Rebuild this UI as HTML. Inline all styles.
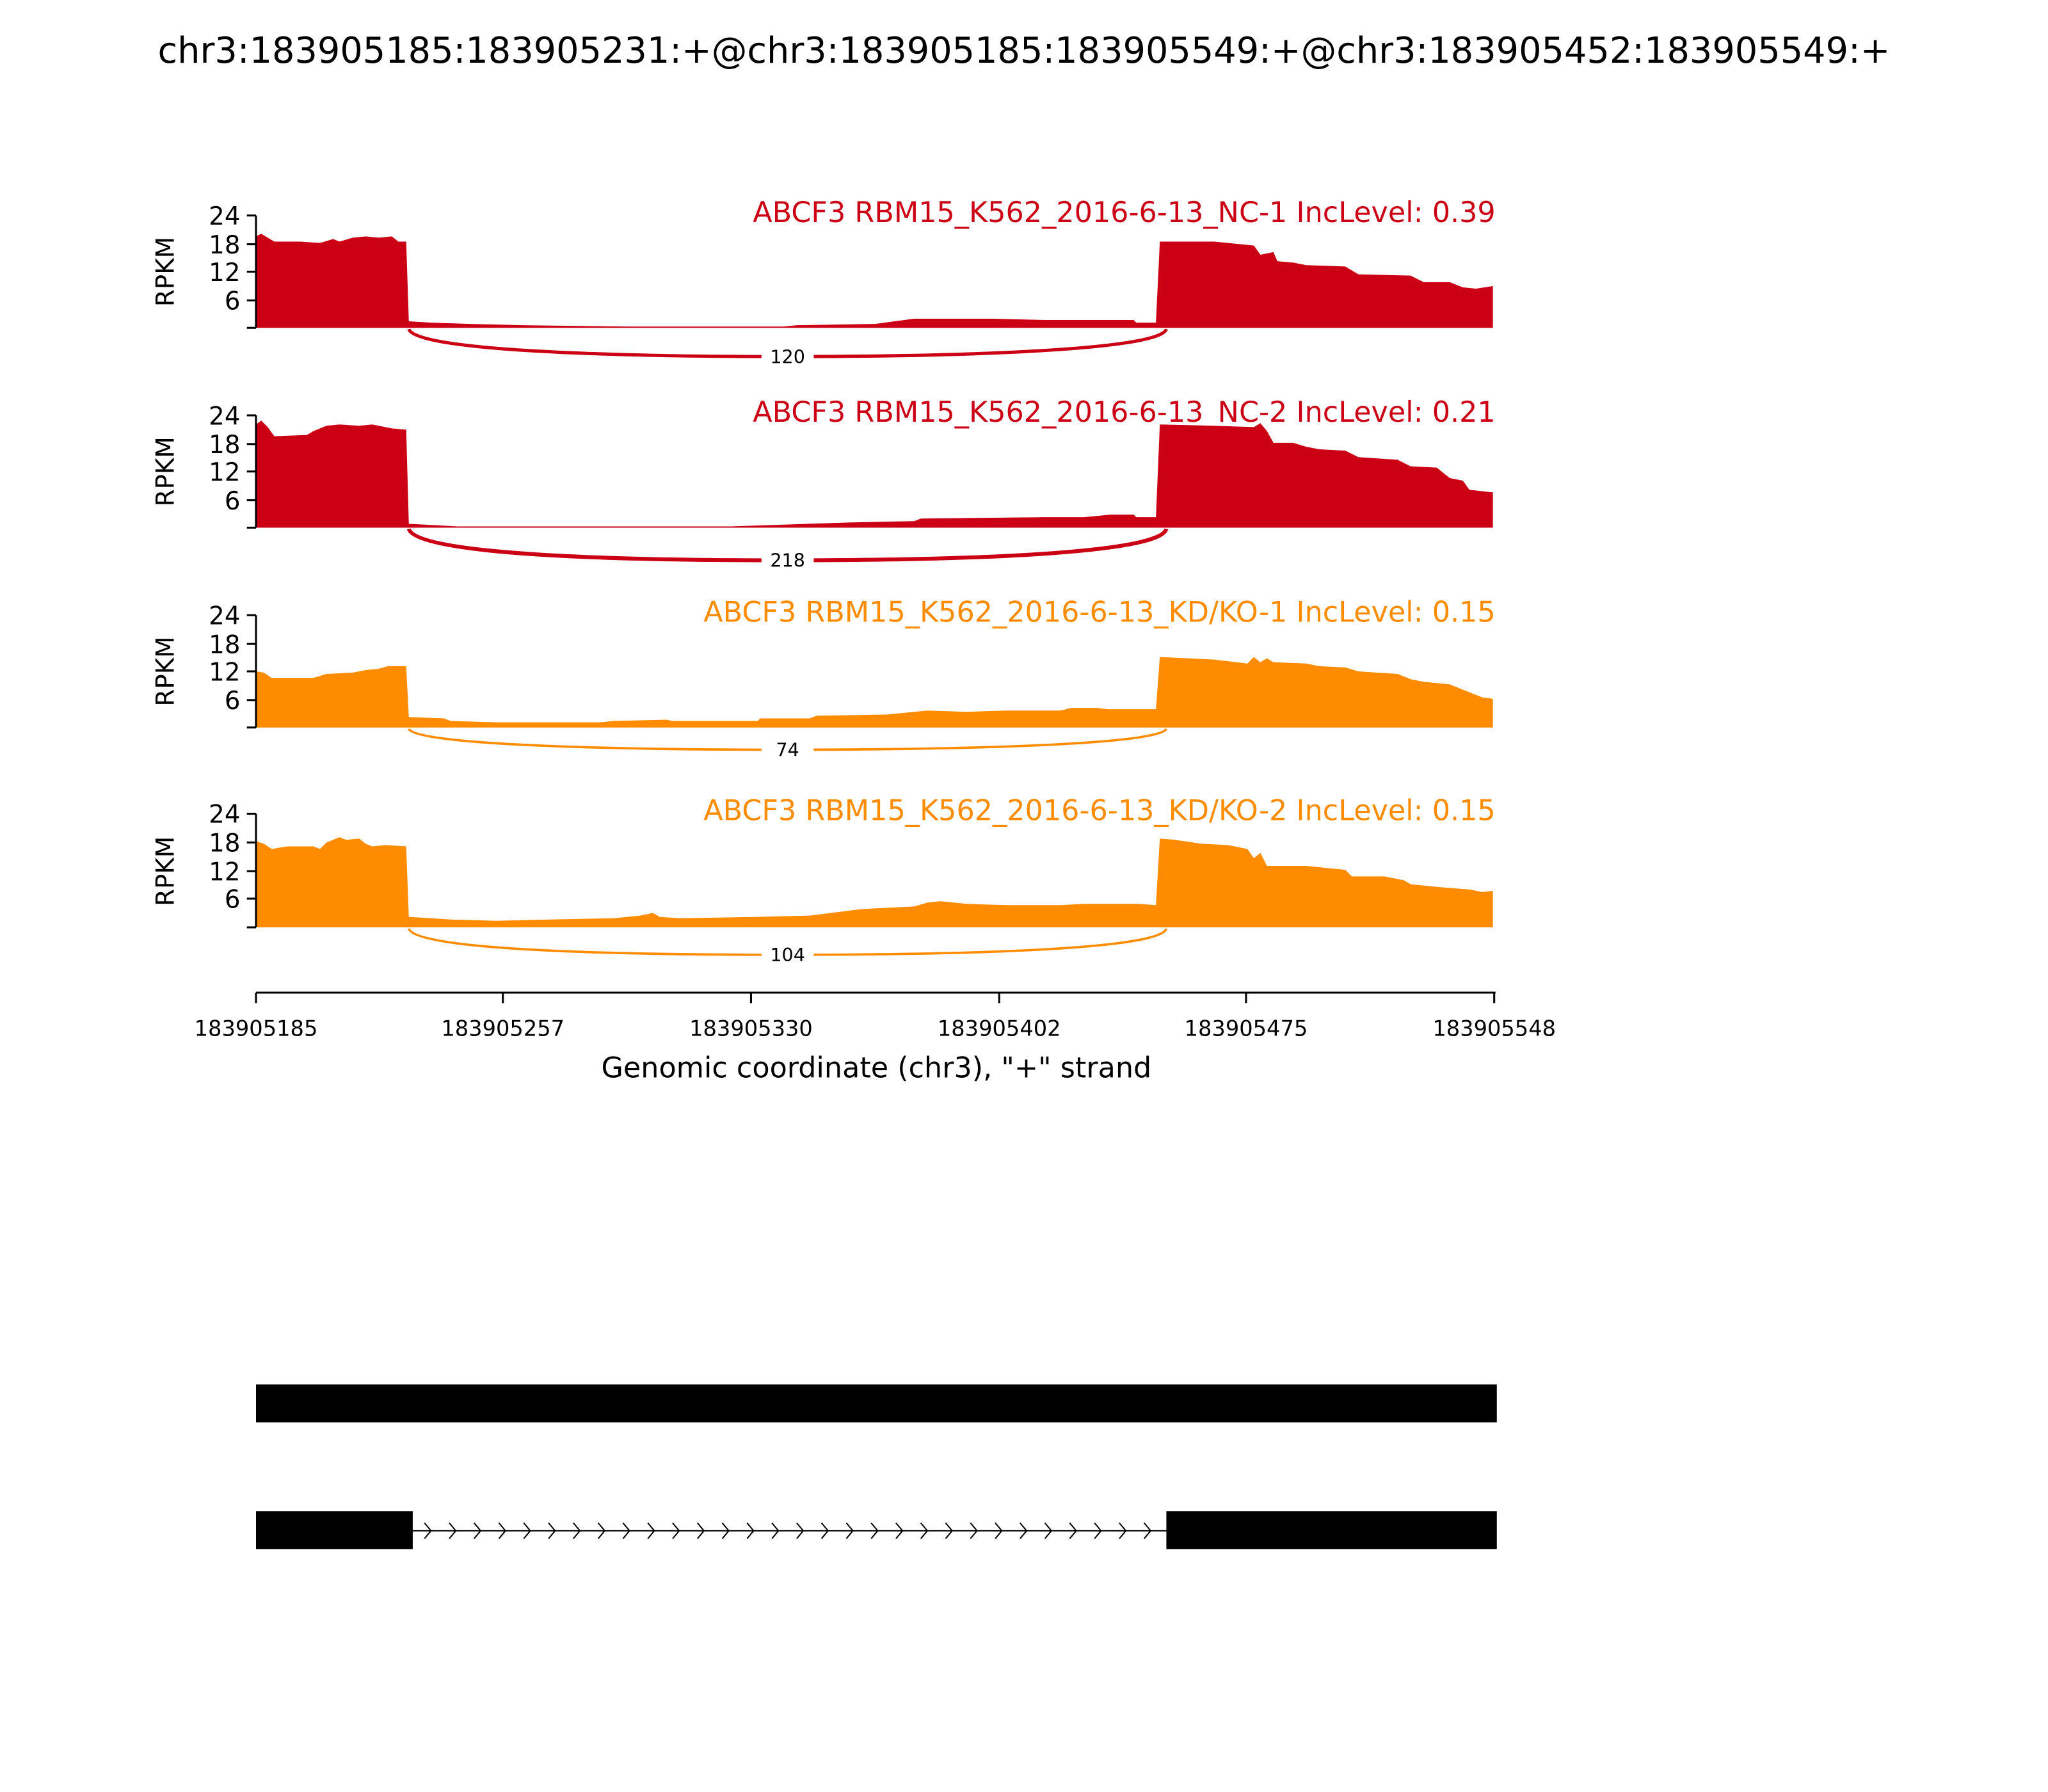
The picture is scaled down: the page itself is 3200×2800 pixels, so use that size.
<!DOCTYPE html>
<html><head><meta charset="utf-8"><style>html,body{margin:0;padding:0;background:#fff}svg{display:block}text{font-family:"DejaVu Sans","Liberation Sans",sans-serif}</style></head>
<body>
<svg width="3200" height="2800" viewBox="0 0 1568 1372" xmlns="http://www.w3.org/2000/svg">
<rect width="1568" height="1372" fill="#fff"/>
<text x="784" y="48" font-size="27.3" text-anchor="middle">chr3:183905185:183905231:+@chr3:183905185:183905549:+@chr3:183905452:183905549:+</text>

<!-- Panel 1 -->
<g>
<path fill="#cc0014" d="M196,251 L196,181 L200,179 L205,182 L210,185 L230,185 L245,186 L255,183 L260,185 L270,182 L280,181 L290,182 L300,181 L305,185 L311,185 L313,246 L330,247 L360,248 L400,249 L480,250 L600,250 L610,249 L670,248 L700,244 L760,244 L800,245 L868,245 L870,247 L885,247 L888,185 L930,185 L960,188 L965,195 L975,193 L978,200 L990,201 L1000,203 L1030,204 L1040,210 L1080,211 L1090,216 L1110,216 L1120,220 L1130,221 L1143,219 L1143,251 Z"/>
<path d="M313,252 C318,268 460,273 600,273 C740,273 888,268 893,252" fill="none" stroke="#cc0014" stroke-width="2.5"/>
<rect x="583" y="264" width="40" height="18" fill="#fff"/>
<text x="603" y="278" font-size="14" text-anchor="middle">120</text>
<text x="1145" y="170" font-size="21.8" text-anchor="end" fill="#cc0014">ABCF3 RBM15_K562_2016-6-13_NC-1 IncLevel: 0.39</text>
<g stroke="#000" stroke-width="1.5"><line x1="196" y1="165" x2="196" y2="251"/><line x1="189" y1="165" x2="196" y2="165"/><line x1="189" y1="187" x2="196" y2="187"/><line x1="189" y1="208" x2="196" y2="208"/><line x1="189" y1="230" x2="196" y2="230"/><line x1="189" y1="251" x2="196" y2="251"/></g>
<g font-size="19" text-anchor="end"><text x="184" y="172">24</text><text x="184" y="194">18</text><text x="184" y="215">12</text><text x="184" y="237">6</text></g>
<text transform="translate(133,208) rotate(-90)" font-size="19" text-anchor="middle">RPKM</text>
</g>

<!-- Panel 2 -->
<g>
<path fill="#cc0014" d="M196,404 L196,325 L200,322 L205,327 L210,334 L235,333 L240,330 L245,328 L250,326 L260,325 L275,326 L285,325 L300,328 L311,329 L313,401 L350,403 L450,403 L560,403 L620,401 L650,400 L700,399 L705,397 L800,396 L830,396 L850,394 L868,394 L870,396 L885,396 L888,325 L930,326 L960,327 L965,324 L970,330 L975,339 L990,339 L1000,342 L1010,344 L1030,345 L1040,350 L1070,352 L1080,357 L1100,358 L1110,366 L1120,368 L1125,375 L1143,377 L1143,404 Z"/>
<path d="M313,405 C318,424 460,429 600,429 C740,429 888,424 893,405" fill="none" stroke="#cc0014" stroke-width="3"/>
<rect x="583" y="420" width="40" height="18" fill="#fff"/>
<text x="603" y="434" font-size="14" text-anchor="middle">218</text>
<text x="1145" y="323" font-size="21.8" text-anchor="end" fill="#cc0014">ABCF3 RBM15_K562_2016-6-13_NC-2 IncLevel: 0.21</text>
<g stroke="#000" stroke-width="1.5"><line x1="196" y1="318" x2="196" y2="404"/><line x1="189" y1="318" x2="196" y2="318"/><line x1="189" y1="340" x2="196" y2="340"/><line x1="189" y1="361" x2="196" y2="361"/><line x1="189" y1="383" x2="196" y2="383"/><line x1="189" y1="404" x2="196" y2="404"/></g>
<g font-size="19" text-anchor="end"><text x="184" y="325">24</text><text x="184" y="347">18</text><text x="184" y="368">12</text><text x="184" y="390">6</text></g>
<text transform="translate(133,361) rotate(-90)" font-size="19" text-anchor="middle">RPKM</text>
</g>

<!-- Panel 3 -->
<g>
<path fill="#ff8c00" d="M196,557 L196,514 L202,515 L208,519 L240,519 L250,516 L270,515 L280,513 L290,512 L297,510 L311,510 L313,549 L340,550 L345,552 L380,553 L460,553 L470,552 L510,551 L515,552 L580,552 L582,550 L620,550 L625,548 L680,547 L700,545 L710,544 L740,545 L770,544 L812,544 L820,542 L840,542 L848,543 L870,543 L885,543 L888,503 L930,505 L955,508 L960,503 L965,507 L970,504 L975,507 L1000,508 L1010,510 L1030,511 L1040,514 L1070,516 L1080,520 L1090,522 L1110,524 L1125,530 L1135,534 L1143,535 L1143,557 Z"/>
<path d="M313,558 C318,570 460,574 600,574 C740,574 888,570 893,558" fill="none" stroke="#ff8c00" stroke-width="1.8"/>
<rect x="583" y="565" width="40" height="18" fill="#fff"/>
<text x="603" y="579" font-size="14" text-anchor="middle">74</text>
<text x="1145" y="476" font-size="21.8" text-anchor="end" fill="#ff8c00">ABCF3 RBM15_K562_2016-6-13_KD/KO-1 IncLevel: 0.15</text>
<g stroke="#000" stroke-width="1.5"><line x1="196" y1="471" x2="196" y2="557"/><line x1="189" y1="471" x2="196" y2="471"/><line x1="189" y1="493" x2="196" y2="493"/><line x1="189" y1="514" x2="196" y2="514"/><line x1="189" y1="536" x2="196" y2="536"/><line x1="189" y1="557" x2="196" y2="557"/></g>
<g font-size="19" text-anchor="end"><text x="184" y="478">24</text><text x="184" y="500">18</text><text x="184" y="521">12</text><text x="184" y="543">6</text></g>
<text transform="translate(133,514) rotate(-90)" font-size="19" text-anchor="middle">RPKM</text>
</g>

<!-- Panel 4 -->
<g>
<path fill="#ff8c00" d="M196,710 L196,644 L202,646 L208,650 L220,648 L240,648 L245,650 L250,645 L260,641 L265,643 L275,642 L280,646 L285,648 L295,647 L311,648 L313,702 L330,703 L345,704 L380,705 L420,704 L470,703 L490,701 L500,699 L505,702 L520,703 L580,702 L620,701 L660,696 L700,694 L710,691 L720,690 L740,692 L770,693 L812,693 L830,692 L870,692 L885,693 L888,642 L900,643 L920,646 L940,647 L955,650 L960,657 L965,653 L970,663 L1000,663 L1030,666 L1035,671 L1060,671 L1075,674 L1080,677 L1100,679 L1125,681 L1135,683 L1143,682 L1143,710 Z"/>
<path d="M313,711 C318,727 460,731 600,731 C740,731 888,727 893,711" fill="none" stroke="#ff8c00" stroke-width="1.8"/>
<rect x="583" y="722" width="40" height="18" fill="#fff"/>
<text x="603" y="736" font-size="14" text-anchor="middle">104</text>
<text x="1145" y="628" font-size="21.8" text-anchor="end" fill="#ff8c00">ABCF3 RBM15_K562_2016-6-13_KD/KO-2 IncLevel: 0.15</text>
<g stroke="#000" stroke-width="1.5"><line x1="196" y1="623" x2="196" y2="710"/><line x1="189" y1="623" x2="196" y2="623"/><line x1="189" y1="645" x2="196" y2="645"/><line x1="189" y1="667" x2="196" y2="667"/><line x1="189" y1="688" x2="196" y2="688"/><line x1="189" y1="710" x2="196" y2="710"/></g>
<g font-size="19" text-anchor="end"><text x="184" y="630">24</text><text x="184" y="652">18</text><text x="184" y="674">12</text><text x="184" y="695">6</text></g>
<text transform="translate(133,667) rotate(-90)" font-size="19" text-anchor="middle">RPKM</text>
</g>

<!-- X axis -->
<g stroke="#000" stroke-width="1.5"><line x1="196" y1="760" x2="1145" y2="760"/>
<line x1="196" y1="760" x2="196" y2="768"/><line x1="385" y1="760" x2="385" y2="768"/><line x1="575" y1="760" x2="575" y2="768"/><line x1="765" y1="760" x2="765" y2="768"/><line x1="954" y1="760" x2="954" y2="768"/><line x1="1144" y1="760" x2="1144" y2="768"/></g>
<g font-size="16.5" text-anchor="middle"><text x="196" y="793">183905185</text><text x="385" y="793">183905257</text><text x="575" y="793">183905330</text><text x="765" y="793">183905402</text><text x="954" y="793">183905475</text><text x="1144" y="793">183905548</text></g>
<text x="671" y="825" font-size="21.8" text-anchor="middle">Genomic coordinate (chr3), "+" strand</text>

<!-- Gene tracks -->
<rect x="196" y="1060" width="950" height="29" fill="#000"/>
<rect x="196" y="1157" width="120" height="29" fill="#000"/>
<rect x="893" y="1157" width="253" height="29" fill="#000"/>
<line x1="316" y1="1172" x2="893" y2="1172" stroke="#000" stroke-width="1"/>
<g fill="none" stroke="#000" stroke-width="1">
<path d="M325,1166 l5,6 l-5,6 M344,1166 l5,6 l-5,6 M363,1166 l5,6 l-5,6 M382,1166 l5,6 l-5,6 M401,1166 l5,6 l-5,6 M420,1166 l5,6 l-5,6 M439,1166 l5,6 l-5,6 M458,1166 l5,6 l-5,6 M477,1166 l5,6 l-5,6 M496,1166 l5,6 l-5,6 M515,1166 l5,6 l-5,6 M534,1166 l5,6 l-5,6 M553,1166 l5,6 l-5,6 M572,1166 l5,6 l-5,6 M591,1166 l5,6 l-5,6 M610,1166 l5,6 l-5,6 M629,1166 l5,6 l-5,6 M648,1166 l5,6 l-5,6 M667,1166 l5,6 l-5,6 M686,1166 l5,6 l-5,6 M705,1166 l5,6 l-5,6 M724,1166 l5,6 l-5,6 M743,1166 l5,6 l-5,6 M762,1166 l5,6 l-5,6 M781,1166 l5,6 l-5,6 M800,1166 l5,6 l-5,6 M819,1166 l5,6 l-5,6 M838,1166 l5,6 l-5,6 M857,1166 l5,6 l-5,6 M876,1166 l5,6 l-5,6"/>
</g>
</svg>
</body></html>
